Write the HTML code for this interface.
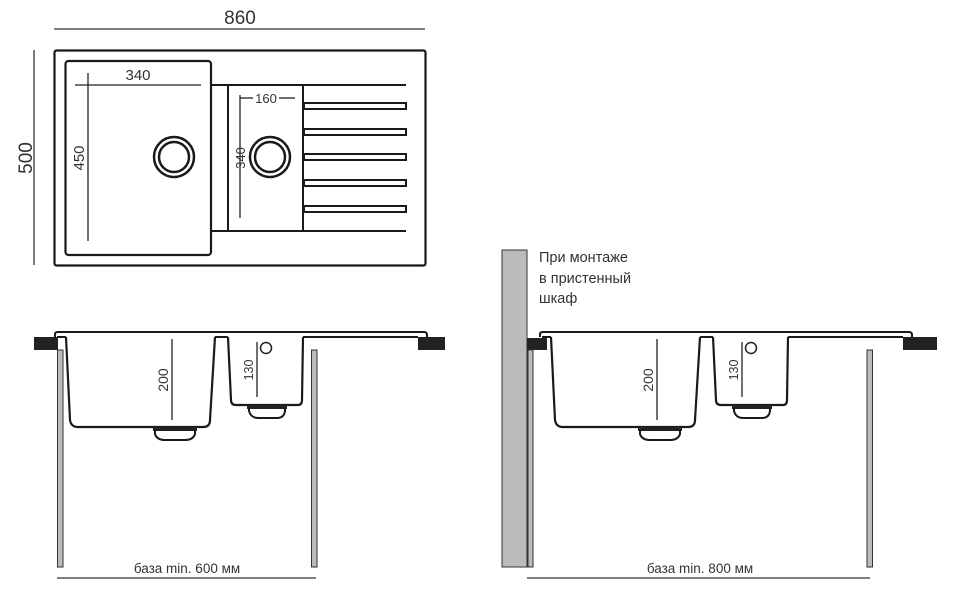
<!DOCTYPE html>
<html><head><meta charset="utf-8"><style>
html,body{margin:0;padding:0;background:#fff;}
svg{display:block;}
text{font-family:"Liberation Sans",sans-serif;fill:#333;}
</style></head><body>
<svg width="963" height="605" viewBox="0 0 963 605" xmlns="http://www.w3.org/2000/svg">
<defs>
<g id="side">
  <path d="M55,337 L55,334 Q55,332 58,332 L424,332 Q427,332 427,335 L427,337" fill="none" stroke="#1a1a1a" stroke-width="2"/>
  <line x1="57" y1="337" x2="66" y2="337" stroke="#1a1a1a" stroke-width="2"/>
  <line x1="215" y1="337" x2="228" y2="337" stroke="#1a1a1a" stroke-width="2"/>
  <line x1="303" y1="337" x2="418" y2="337" stroke="#1a1a1a" stroke-width="2"/>
  <path d="M66,337 L70,420 Q71,427 78,427 L203,427 Q210,427 210,420 L215,337" fill="none" stroke="#1a1a1a" stroke-width="2.2"/>
  <rect x="153" y="427" width="44" height="4" fill="#222"/>
  <path d="M155,430 L155,434 Q157,440 165,440 L185,440 Q193,440 195,434 L195,430" fill="none" stroke="#1a1a1a" stroke-width="2"/>
  <path d="M228,337 L231,400 Q231,405 236,405 L298,405 Q302,405 302,400 L303,337" fill="none" stroke="#1a1a1a" stroke-width="2.2"/>
  <rect x="247" y="405" width="40" height="4" fill="#222"/>
  <path d="M249,408 L249,411 Q251,418 258,418 L277,418 Q284,418 285,411 L285,408" fill="none" stroke="#1a1a1a" stroke-width="2"/>
  <line x1="172" y1="339" x2="172" y2="420" stroke="#222" stroke-width="1.3"/>
  <text transform="translate(168,380) rotate(-90)" font-size="14" text-anchor="middle">200</text>
  <line x1="257" y1="342" x2="257" y2="397" stroke="#222" stroke-width="1.3"/>
  <text transform="translate(253,370) rotate(-90)" font-size="12.5" text-anchor="middle">130</text>
  <circle cx="266" cy="348" r="5.5" fill="none" stroke="#222" stroke-width="1.5"/>
</g>
</defs>

<!-- TOP VIEW -->
<line x1="54" y1="29" x2="425" y2="29" stroke="#333" stroke-width="1.3"/>
<text x="240" y="24" font-size="19" text-anchor="middle">860</text>
<line x1="34" y1="50" x2="34" y2="265" stroke="#333" stroke-width="1.3"/>
<text transform="translate(32,158) rotate(-90)" font-size="19" text-anchor="middle">500</text>
<rect x="54.5" y="50.5" width="371" height="215" rx="2" fill="none" stroke="#1a1a1a" stroke-width="2.2"/>
<rect x="65.5" y="61" width="145.5" height="194" rx="3" fill="none" stroke="#1a1a1a" stroke-width="2.2"/>
<line x1="75" y1="85" x2="201" y2="85" stroke="#222" stroke-width="1.3"/>
<text x="138" y="80" font-size="15" text-anchor="middle">340</text>
<line x1="88" y1="73" x2="88" y2="241" stroke="#222" stroke-width="1.3"/>
<text transform="translate(84,158) rotate(-90)" font-size="15" text-anchor="middle">450</text>
<circle cx="174" cy="157" r="20" fill="none" stroke="#1a1a1a" stroke-width="2.5"/>
<circle cx="174" cy="157" r="15" fill="none" stroke="#1a1a1a" stroke-width="2.5"/>
<line x1="211" y1="85" x2="406" y2="85" stroke="#1a1a1a" stroke-width="2"/>
<line x1="211" y1="231" x2="406" y2="231" stroke="#1a1a1a" stroke-width="2"/>
<line x1="228" y1="85" x2="228" y2="231" stroke="#1a1a1a" stroke-width="2"/>
<line x1="303" y1="85" x2="303" y2="231" stroke="#1a1a1a" stroke-width="2"/>
<line x1="240" y1="98" x2="253" y2="98" stroke="#222" stroke-width="1.3"/>
<line x1="279" y1="98" x2="295" y2="98" stroke="#222" stroke-width="1.3"/>
<text x="266" y="103" font-size="13" text-anchor="middle">160</text>
<line x1="240" y1="95" x2="240" y2="218" stroke="#222" stroke-width="1.3"/>
<text transform="translate(245,158) rotate(-90)" font-size="13" text-anchor="middle">340</text>
<circle cx="270" cy="157" r="20" fill="none" stroke="#1a1a1a" stroke-width="2.5"/>
<circle cx="270" cy="157" r="15" fill="none" stroke="#1a1a1a" stroke-width="2.5"/>
<g fill="none" stroke="#1a1a1a" stroke-width="2">
<rect x="304" y="103" width="102" height="6"/>
<rect x="304" y="129" width="102" height="6"/>
<rect x="304" y="154" width="102" height="6"/>
<rect x="304" y="180" width="102" height="6"/>
<rect x="304" y="206" width="102" height="6"/>
</g>

<!-- SIDE VIEW LEFT -->
<rect x="34" y="337" width="24" height="13" fill="#222"/>
<rect x="418" y="337" width="27" height="13" fill="#222"/>
<use href="#side"/>
<rect x="57.5" y="350" width="5.5" height="217" fill="#bbb" stroke="#333" stroke-width="1"/>
<rect x="311.5" y="350" width="5.5" height="217" fill="#bbb" stroke="#333" stroke-width="1"/>
<line x1="57" y1="578" x2="316" y2="578" stroke="#333" stroke-width="1.3"/>
<text x="187" y="573" font-size="13.5" text-anchor="middle">база min. 600 мм</text>

<!-- SIDE VIEW RIGHT -->
<rect x="502" y="250" width="25" height="317" fill="#bbb" stroke="#333" stroke-width="1"/>
<rect x="527" y="338" width="20" height="12" fill="#222"/>
<rect x="903" y="337" width="34" height="13" fill="#222"/>
<use href="#side" transform="translate(485,0)"/>
<rect x="528" y="350" width="5" height="217" fill="#bbb" stroke="#333" stroke-width="1"/>
<rect x="867" y="350" width="5.5" height="217" fill="#bbb" stroke="#333" stroke-width="1"/>
<line x1="527" y1="578" x2="870" y2="578" stroke="#333" stroke-width="1.3"/>
<text x="700" y="573" font-size="13.5" text-anchor="middle">база min. 800 мм</text>
<text x="539" y="262" font-size="14.5">При монтаже</text>
<text x="539" y="283" font-size="14.5">в пристенный</text>
<text x="539" y="303" font-size="14.5">шкаф</text>
</svg>
</body></html>
